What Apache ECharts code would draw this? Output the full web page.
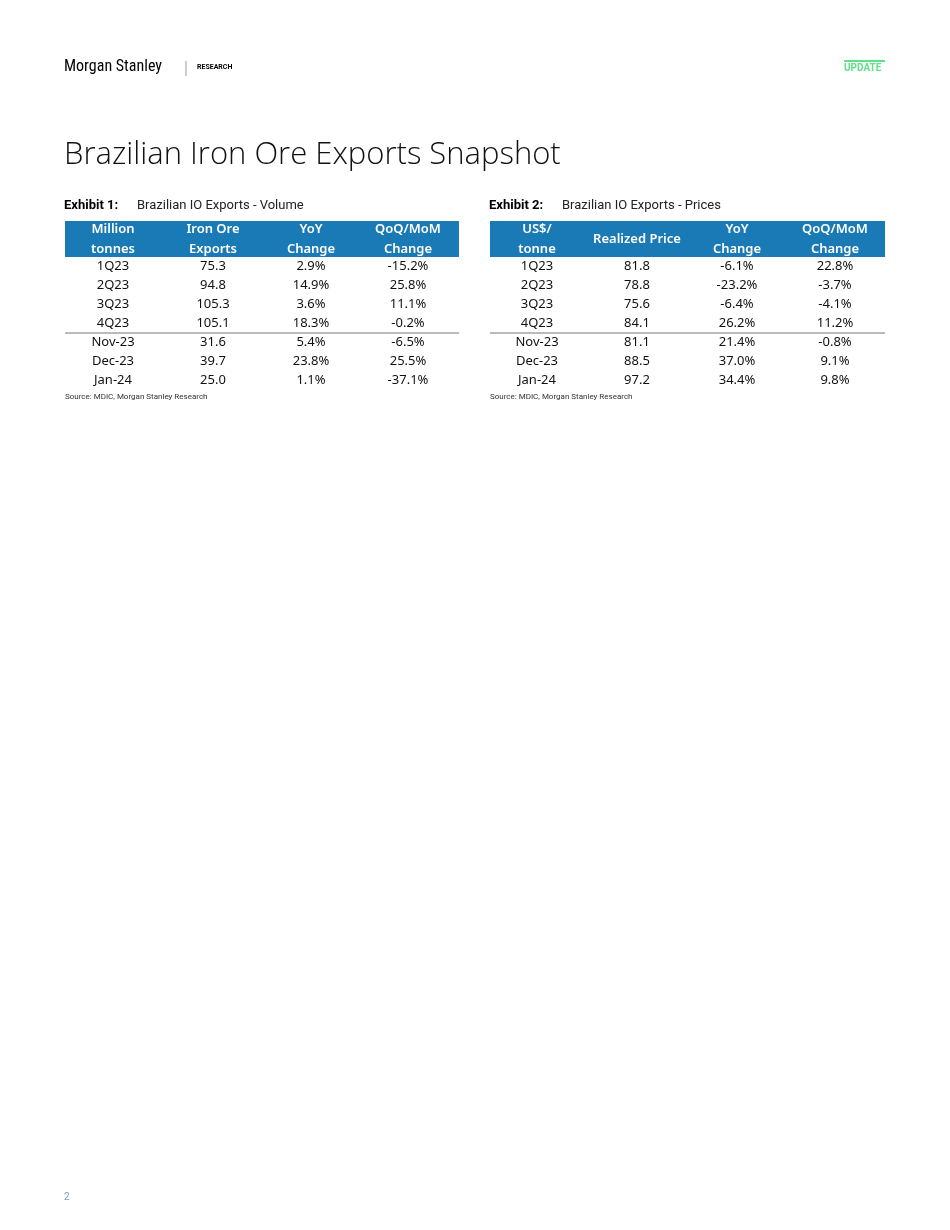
<!DOCTYPE html>
<html><head><meta charset="utf-8">
<script src="https://cdn.jsdelivr.net/npm/echarts@6/dist/echarts.min.js"></script>
<style>html,body{margin:0;padding:0;background:#fff}#c{width:950px;height:1230px}</style>
</head><body><div id="c"></div>
<script>
const rowLabels = ['1Q23','2Q23','3Q23','4Q23','Nov-23','Dec-23','Jan-24'];
const volHeaders = [['Million','tonnes'],['Iron Ore','Exports'],['YoY','Change'],['QoQ/MoM','Change']];
const volExports = ['75.3','94.8','105.3','105.1','31.6','39.7','25.0'];
const volYoY = ['2.9%','14.9%','3.6%','18.3%','5.4%','23.8%','1.1%'];
const volQoQ = ['-15.2%','25.8%','11.1%','-0.2%','-6.5%','25.5%','-37.1%'];
const priceHeaders = [['US$/','tonne'],['Realized Price'],['YoY','Change'],['QoQ/MoM','Change']];
const pricePrice = ['81.8','78.8','75.6','84.1','81.1','88.5','97.2'];
const priceYoY = ['-6.1%','-23.2%','-6.4%','26.2%','21.4%','37.0%','34.4%'];
const priceQoQ = ['22.8%','-3.7%','-4.1%','11.2%','-0.8%','9.1%','9.8%'];

const chart = echarts.init(document.getElementById('c'));
const g = [];
const cellFont = '"Noto Sans", "Open Sans", sans-serif';
function table(x0, x1, colX, headers, cols, exhibit, title) {
  g.push({type:'text', left:x0-1, top:199, style:{text:exhibit, font:'bold 13px Roboto', fill:'#000'}});
  g.push({type:'text', left:x0+72, top:199, style:{text:title, font:'13px Roboto', fill:'#222'}});
  g.push({type:'rect', shape:{x:x0, y:221, width:x1-x0, height:36}, style:{fill:'#1a7ab5'}});
  headers.forEach((h,i)=>{
    if (h.length===2) {
      g.push({type:'text', x:colX[i], y:229, style:{text:h[0], font:'600 13px '+cellFont, fill:'#fff', align:'center', verticalAlign:'middle'}});
      g.push({type:'text', x:colX[i], y:249, style:{text:h[1], font:'600 13px '+cellFont, fill:'#fff', align:'center', verticalAlign:'middle'}});
    } else {
      g.push({type:'text', x:colX[i], y:239, style:{text:h[0], font:'600 13px '+cellFont, fill:'#fff', align:'center', verticalAlign:'middle'}});
    }
  });
  const ys = [266,285,304,323,342,361,380];
  cols.forEach((col,ci)=>col.forEach((v,ri)=>{
    g.push({type:'text', x:colX[ci], y:ys[ri], style:{text:v, font:'13px '+cellFont, fill:'#111', align:'center', verticalAlign:'middle'}});
  }));
  g.push({type:'line', shape:{x1:x0, y1:333, x2:x1, y2:333}, style:{stroke:'#777', lineWidth:1}});
  g.push({type:'text', left:x0, top:393, style:{text:'Source: MDIC, Morgan Stanley Research', font:'8px Roboto', fill:'#333'}});
}
table(65, 459, [113,213,311,408], volHeaders, [rowLabels, volExports, volYoY, volQoQ], 'Exhibit 1:', 'Brazilian IO Exports - Volume');
table(490, 885, [537,637,737,835], priceHeaders, [rowLabels, pricePrice, priceYoY, priceQoQ], 'Exhibit 2:', 'Brazilian IO Exports - Prices');

g.push({type:'text', left:64, top:59, style:{text:'Morgan Stanley', font:'16px "Liberation Sans Narrow", "Roboto Condensed", Roboto', fill:'#000'}});
g.push({type:'line', shape:{x1:186, y1:61, x2:186, y2:76}, style:{stroke:'#999', lineWidth:1}});
g.push({type:'text', left:197, top:64, style:{text:'RESEARCH', font:'bold 7px Roboto', fill:'#000'}});
g.push({type:'rect', shape:{x:844, y:60, width:41, height:2}, style:{fill:'#5fe08a'}});
g.push({type:'text', left:844, top:63, style:{text:'UPDATE', font:'bold 10px Roboto', fill:'#5fe08a'}});
g.push({type:'text', left:64, top:140, style:{text:'Brazilian Iron Ore Exports Snapshot', font:'300 31px "Open Sans", Lato', fill:'#111'}});
g.push({type:'text', left:64, top:1192, style:{text:'2', font:'10px Roboto', fill:'#7aa0c0'}});

chart.setOption({animation:false, backgroundColor:'#fff', graphic:g});
</script></body></html>
